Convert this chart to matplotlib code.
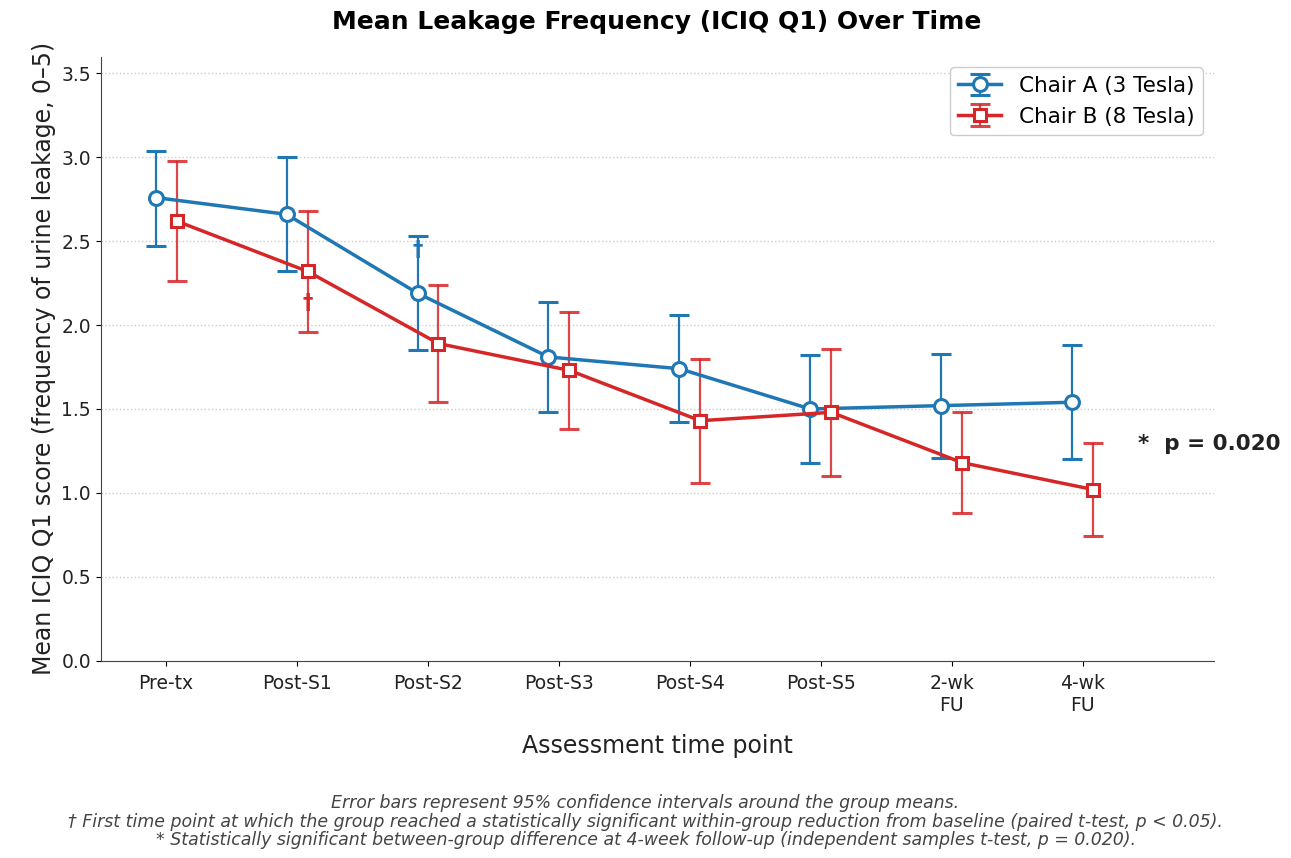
import matplotlib.pyplot as plt
import numpy as np

timepoints = ['Pre-tx', 'Post-S1', 'Post-S2', 'Post-S3', 'Post-S4', 'Post-S5', '2-wk\nFU', '4-wk\nFU']

# Chair A (3 Tesla)
mean_a = [2.76, 2.66, 2.19, 1.81, 1.74, 1.50, 1.52, 1.54]
lo_a = [2.47, 2.32, 1.85, 1.48, 1.42, 1.18, 1.21, 1.20]
hi_a = [3.04, 3.00, 2.53, 2.14, 2.06, 1.82, 1.83, 1.88]

# Chair B (8 Tesla)
mean_b = [2.62, 2.32, 1.89, 1.73, 1.43, 1.48, 1.18, 1.02]
lo_b = [2.26, 1.96, 1.54, 1.38, 1.06, 1.10, 0.88, 0.74]
hi_b = [2.98, 2.68, 2.24, 2.08, 1.80, 1.86, 1.48, 1.30]

# first significant within-group reduction (index, y position of dagger)
dagger_a = (2, 2.45)
dagger_b = (1, 2.13)

blue = '#1f77b4'
red = '#d62728'
offset = 0.08
x = np.arange(len(timepoints))

fig = plt.figure(figsize=(12.91, 8.58), dpi=100)
ax = fig.add_axes([0.078, 0.23, 0.862, 0.704])

err_a = [np.array(mean_a) - np.array(lo_a), np.array(hi_a) - np.array(mean_a)]
err_b = [np.array(mean_b) - np.array(lo_b), np.array(hi_b) - np.array(mean_b)]

ax.errorbar(x - offset, mean_a, yerr=err_a, color=blue, lw=2.5, marker='o',
            markersize=10, markerfacecolor='white', markeredgewidth=2.2,
            capsize=7, capthick=2, elinewidth=1.6, ecolor=blue,
            label='Chair A (3 Tesla)', zorder=3)
ax.errorbar(x + offset, mean_b, yerr=err_b, color=red, lw=2.5, marker='s',
            markersize=9, markerfacecolor='white', markeredgewidth=2.2,
            capsize=7, capthick=2, elinewidth=1.6, ecolor=(0.84, 0.15, 0.16, 0.85),
            label='Chair B (8 Tesla)', zorder=3)

ax.text(dagger_a[0] - offset, dagger_a[1], '\u2020', color=blue, fontsize=15,
        fontweight='bold', ha='center', va='center', zorder=4)
ax.text(dagger_b[0] + offset, dagger_b[1], '\u2020', color=red, fontsize=15,
        fontweight='bold', ha='center', va='center', zorder=4)

ax.text(7.42, 1.29, '*  p = 0.020', fontsize=15.5, fontweight='bold',
        color='#222222', ha='left', va='center')

ax.set_xlim(-0.5, 8.0)
ax.set_ylim(0, 3.6)
ax.set_yticks(np.arange(0, 3.51, 0.5))
ax.set_xticks(x)
ax.set_xticklabels(timepoints, fontsize=13.5, color='#222222')
ax.tick_params(axis='y', labelsize=13.5, labelcolor='#222222')
ax.tick_params(axis='x', pad=6)
ax.grid(axis='y', linestyle=':', color='#cccccc', lw=1)
ax.spines['top'].set_visible(False)
ax.spines['right'].set_visible(False)
ax.spines['left'].set_color('#444444')
ax.spines['bottom'].set_color('#444444')

ax.set_title('Mean Leakage Frequency (ICIQ Q1) Over Time', fontsize=18,
             fontweight='bold', pad=20)
ax.set_xlabel('Assessment time point', fontsize=17, labelpad=14, color='#222222')
ax.set_ylabel('Mean ICIQ Q1 score (frequency of urine leakage, 0\u20135)', fontsize=17,
              color='#222222')

ax.legend(loc='upper right', fontsize=15.5, framealpha=1, edgecolor='#cccccc')

fig.text(0.5, 0.01,
         'Error bars represent 95% confidence intervals around the group means.\n'
         '\u2020 First time point at which the group reached a statistically significant '
         'within-group reduction from baseline (paired t-test, p < 0.05).\n'
         '* Statistically significant between-group difference at 4-week follow-up '
         '(independent samples t-test, p = 0.020).',
         ha='center', va='bottom', fontsize=12.5, style='italic', color='#444444',
         linespacing=1.05)

plt.savefig('out.png', dpi=100)
